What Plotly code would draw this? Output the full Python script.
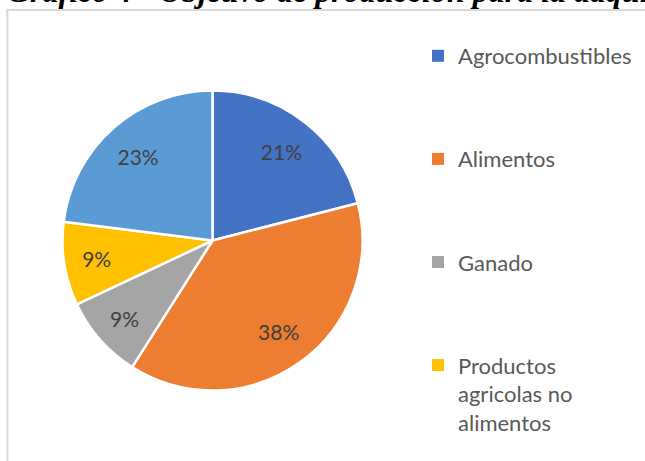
import plotly.graph_objects as go

categories = ["Agrocombustibles", "Alimentos", "Ganado",
              "Productos agricolas no alimentos", "Otros"]
legend_names = ["Agrocombustibles", "Alimentos", "Ganado",
                "Productos<br>agricolas no<br>alimentos"]
values = [21, 38, 9, 9, 23]
colors = ["#4472C4", "#ED7D31", "#A5A5A5", "#FFC000", "#5B9BD5"]
title_text = "Gráfico 4 - Objetivo de producción para la adquisición de tierras"

W, H = 645, 461
ML, MT = 8, 10
PW, PH = W - ML, H - MT

def px_x(x):
    return (x - ML) / PW

def px_y(y):
    return (H - y) / PH

cx, cy, r = 212.5, 240.5, 150
dom = dict(x=[px_x(cx - r), px_x(cx + r)], y=[px_y(cy + r), px_y(cy - r)])

fig = go.Figure()
# slices
fig.add_trace(go.Pie(
    labels=categories, values=values, sort=False, direction="clockwise",
    rotation=0,
    marker=dict(colors=colors, line=dict(color="white", width=2.5)),
    textinfo="none", showlegend=False, hoverinfo="label+percent",
    domain=dom,
))
# percentage labels, placed by the library in the outer ring
fig.add_trace(go.Pie(
    labels=categories, values=values, sort=False, direction="clockwise",
    rotation=0, hole=0.5,
    marker=dict(colors=["rgba(0,0,0,0)"] * len(values), line=dict(width=0)),
    texttemplate="%{percent:.0%}", textposition="inside",
    insidetextorientation="horizontal",
    textfont=dict(family="Lato", size=21, color="#404040"),
    showlegend=False, hoverinfo="skip",
    domain=dom,
))
for i, name in enumerate(legend_names):
    fig.add_trace(go.Scatter(
        x=[None], y=[None], mode="markers", name=name,
        legendgroup=f"g{i}",
        marker=dict(symbol="square", size=9, color=colors[i]),
    ))

fig.update_layout(
    width=W, height=H,
    margin=dict(l=ML, r=0, t=MT, b=0, autoexpand=False),
    paper_bgcolor="white", plot_bgcolor="white",
    xaxis=dict(visible=False), yaxis=dict(visible=False),
    legend=dict(
        x=px_x(418), xanchor="left", y=px_y(35), yanchor="top",
        font=dict(family="Lato", size=22, color="#595959"),
        tracegroupgap=71.5, valign="top", itemsizing="constant",
        bgcolor="rgba(0,0,0,0)",
    ),
    shapes=[dict(type="rect", xref="paper", yref="paper",
                 x0=-0.001, x1=1.2, y0=-0.2, y1=1.0,
                 line=dict(color="#d9d9d9", width=2), layer="below")],
    annotations=[dict(text="<b><i>" + title_text + "</i></b>",
                      xref="paper", yref="paper", x=px_x(5), y=1.0,
                      xanchor="left", yanchor="bottom", yshift=-1,
                      showarrow=False,
                      font=dict(family="Liberation Serif", size=32, color="black"))],
)

fig.write_html("out.html", config={"displayModeBar": False},
               post_script="document.body.style.margin='0px';")
